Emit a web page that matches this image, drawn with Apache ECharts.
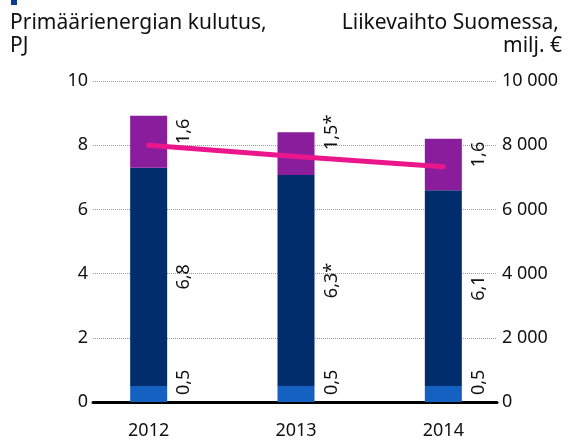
<!DOCTYPE html>
<html>
<head>
<meta charset="utf-8">
<script src="https://cdn.jsdelivr.net/npm/echarts@6/dist/echarts.min.js"></script>
<style>
html, body { margin: 0; padding: 0; background: #fff; }
#chart { width: 571px; height: 441px; }
</style>
</head>
<body>
<div id="chart"></div>
<script>
var years = ["2012", "2013", "2014"]
// segment heights as drawn in the picture
var baseEnergy = [0.5, 0.5, 0.5]
var mainEnergy = [6.8, 6.57, 6.1]
var topEnergy = [1.62, 1.33, 1.6]
// printed labels
var baseLabels = ["0,5", "0,5", "0,5"]
var mainLabels = ["6,8", "6,3*", "6,1"]
var topLabels = ["1,6", "1,5*", "1,6"]
var revenue = [8000, 7650, 7330]

var font = "Noto Sans"
var ink = "#111"
var titleFont = "21px '" + font + "'"

function textFrom(texts) {
    return function (p) { return texts[p.dataIndex] }
}
function spaced(v) {
    return String(v).replace(/\B(?=(\d{3})+(?!\d))/g, " ")
}

var barLabel = {
    show: true,
    rotate: 90,
    verticalAlign: "top",
    fontFamily: font,
    fontSize: 18,
    color: ink
}

// the 2013 top label is lifted so it stays clear of the line
var topData = topEnergy.map(function (v, i) {
    return i === 1 ? { value: v, label: { align: "center", offset: [0, 8] } } : v
})

var chart = echarts.init(document.getElementById("chart"))
var option = {
    animation: false,
    // grid 0 carries the visible axes, grid 1 spaces the bars
    grid: [
        { left: 93, right: 74, top: 81, bottom: 39 },
        { left: 75, right: 54, top: 81, bottom: 39 }
    ],
    graphic: [
        { type: "rect", left: 11, top: 0, shape: { width: 6, height: 5 }, style: { fill: "#0b3b8f" } },
        { type: "text", left: 10, top: 13, style: { text: "Primäärienergian kulutus,", font: titleFont, fill: ink } },
        { type: "text", left: 10, top: 36, style: { text: "PJ", font: titleFont, fill: ink } },
        { type: "text", right: 12, top: 13, style: { text: "Liikevaihto Suomessa,", font: titleFont, fill: ink } },
        { type: "text", right: 9, top: 36, style: { text: "milj. €", font: titleFont, fill: ink } }
    ],
    xAxis: [
        {
            gridIndex: 0,
            type: "category",
            data: years,
            axisTick: { show: false },
            axisLabel: { show: false },
            axisLine: { show: true, lineStyle: { color: "#000", width: 3 } }
        },
        {
            gridIndex: 1,
            type: "category",
            data: years,
            axisTick: { show: false },
            axisLine: { show: false },
            axisLabel: { margin: 20, fontFamily: font, fontSize: 18, color: ink }
        }
    ],
    yAxis: [
        {
            gridIndex: 0,
            type: "value",
            min: 0,
            max: 10,
            interval: 2,
            axisLine: { show: false },
            axisTick: { show: false },
            axisLabel: { margin: 5, fontFamily: font, fontSize: 18, color: ink },
            splitLine: { lineStyle: { type: "dotted", color: "#9a9a9a" } }
        },
        {
            gridIndex: 0,
            type: "value",
            position: "right",
            min: 0,
            max: 10000,
            interval: 2000,
            axisLine: { show: false },
            axisTick: { show: false },
            axisLabel: { margin: 5, fontFamily: font, fontSize: 18, color: ink, formatter: spaced },
            splitLine: { show: false }
        },
        { gridIndex: 1, type: "value", min: 0, max: 10, show: false },
        { gridIndex: 1, type: "value", min: 0, max: 10000, show: false }
    ],
    series: [
        {
            type: "bar",
            xAxisIndex: 1,
            yAxisIndex: 2,
            stack: "energy",
            barWidth: 37,
            itemStyle: { color: "#1461c1" },
            label: Object.assign({}, barLabel, {
                position: ["100%", "100%"], align: "left", offset: [7, 8], formatter: textFrom(baseLabels)
            }),
            data: baseEnergy
        },
        {
            type: "bar",
            xAxisIndex: 1,
            yAxisIndex: 2,
            stack: "energy",
            barWidth: 37,
            itemStyle: { color: "#022d6c" },
            label: Object.assign({}, barLabel, {
                position: ["100%", "50%"], align: "center", offset: [0, 8], formatter: textFrom(mainLabels)
            }),
            data: mainEnergy
        },
        {
            type: "bar",
            xAxisIndex: 1,
            yAxisIndex: 2,
            stack: "energy",
            barWidth: 37,
            itemStyle: { color: "#8a1d9c" },
            label: Object.assign({}, barLabel, {
                position: ["100%", 0], align: "right", offset: [-3, 8], formatter: textFrom(topLabels)
            }),
            data: topData
        },
        {
            type: "line",
            xAxisIndex: 1,
            yAxisIndex: 3,
            symbol: "none",
            z: 5,
            lineStyle: { color: "#ec168c", width: 5, cap: "round" },
            data: revenue
        }
    ]
}
chart.setOption(option)
</script>
</body>
</html>
